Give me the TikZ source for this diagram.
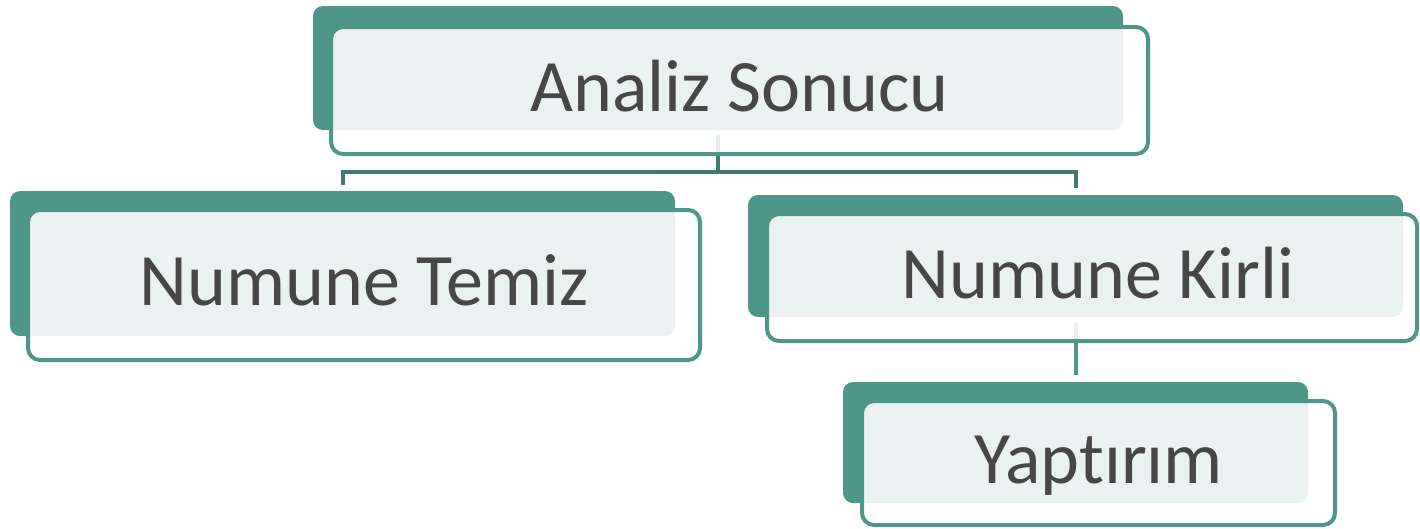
\documentclass[tikz,border=0pt]{standalone}
\usepackage{fontspec}
\setmainfont[Ligatures=NoCommon]{Carlito}
\definecolor{tealA}{RGB}{78,150,138}
\definecolor{tealD}{RGB}{62,124,113}
\definecolor{txtgray}{RGB}{71,71,71}
\pgfdeclarelayer{bg}
\pgfsetlayers{bg,main}
\tikzset{
  backbox/.style={fill=tealA, rounded corners=10pt, inner sep=0pt, outer sep=0pt, minimum width=#1},
  frontbox/.style={draw=tealA, line width=4pt, fill=white, fill opacity=0.88, text opacity=1,
    rounded corners=12pt, inner sep=0pt, outer sep=0pt, minimum width=#1,
    font=\fontsize{74}{80}\selectfont, text=txtgray, text height=47.7pt, text depth=6pt},
  conn/.style={draw=tealD, line width=4pt},
  conn2/.style={draw=tealA, line width=4pt}
}
\begin{document}
\begin{tikzpicture}[x=1pt,y=-1pt]
\useasboundingbox (0,0) rectangle (1420,528);
% back boxes
\node[backbox=810pt, minimum height=124pt] (aB) at (718,68) {};
\node[backbox=665pt, minimum height=145pt] (tB) at (342.5,263.5) {};
\node[backbox=655pt, minimum height=122pt] (kB) at (1075.5,256) {};
\node[backbox=465pt, minimum height=121pt] (yB) at (1075.5,442.5) {};
% front boxes
\node[frontbox=817pt, minimum height=127pt] (aF) at (739.5,90.5) {Analiz Sonucu};
\node[frontbox=672pt, minimum height=150pt] (tF) at (364,285) {Numune Temiz};
\node[frontbox=650pt, minimum height=127pt] (kF) at (1092,277.5) {\hspace*{12pt}Numune Kirli};
\node[frontbox=473pt, minimum height=124pt] (yF) at (1098.5,463) {Yapt\kern0ptırım};
% connectors
\begin{pgfonlayer}{bg}
\draw[conn] ([yshift=-5pt]aB.south) -- ++(0,37) -| ([yshift=6pt]tB.north);
\draw[conn] ([yshift=-5pt]aB.south) -- ++(0,37) -| ([yshift=7pt]kB.north);
\draw[conn2] ([yshift=-6pt]kB.south) -- ([yshift=7pt]yB.north);
\end{pgfonlayer}
\end{tikzpicture}
\end{document}
